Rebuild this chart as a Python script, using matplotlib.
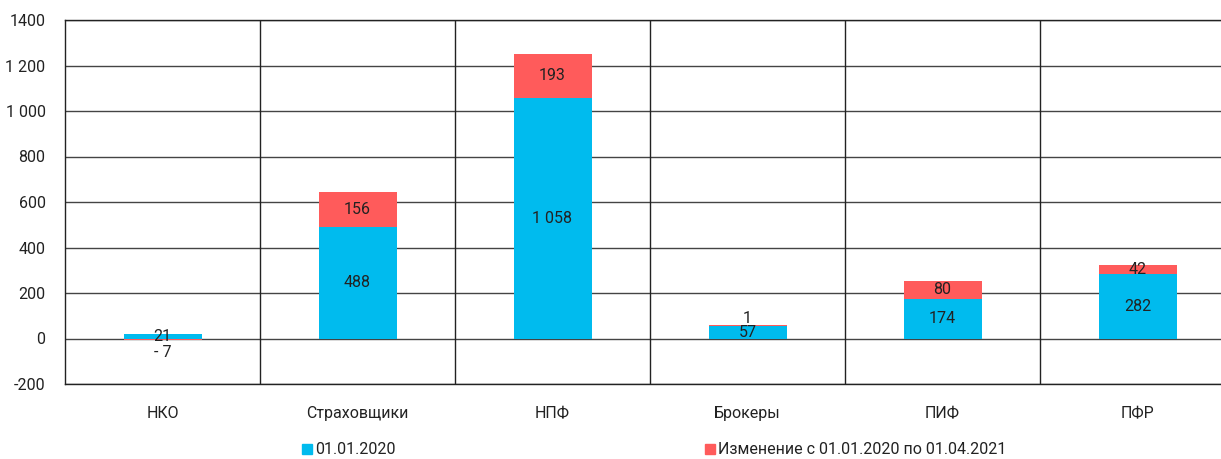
import matplotlib.pyplot as plt
from matplotlib.patches import Patch

plt.rcParams["font.family"] = ["Roboto", "DejaVu Sans"]

categories = ["НКО", "Страховщики", "НПФ", "Брокеры", "ПИФ", "ПФР"]
base_2020 = [21, 488, 1058, 57, 174, 282]
change = [-7, 156, 193, 1, 80, 42]
yticks = [-200, 0, 200, 400, 600, 800, 1000, 1200, 1400]
ytick_labels = ["-200", "0", "200", "400", "600", "800", "1 000", "1 200", "1400"]
legend_labels = ["01.01.2020", "Изменение с 01.01.2020 по 01.04.2021"]

blue = "#00BBEE"
red = "#FF5B5B"
text_color = "#222222"
fs = 11.5


def fmt(v):
    s = f"{abs(v):,}".replace(",", " ")
    return "- " + s if v < 0 else s


fig = plt.figure(figsize=(12.21, 4.59), dpi=100)
ax = fig.add_axes([65 / 1221, 1 - 384 / 459, 1 - 65 / 1221, (384 - 20) / 459])

x = [i + 0.5 for i in range(len(categories))]
width = 0.4

ax.bar(x, base_2020, width, color=blue, zorder=3)
change_bottom = [b if c >= 0 else 0 for b, c in zip(base_2020, change)]
ax.bar(x, change, width, bottom=change_bottom, color=red, zorder=3)

# segment labels; tiny segments get their label pushed outside the bar
for xi, b, c, cb in zip(x, base_2020, change, change_bottom):
    ax.text(xi, b / 2, fmt(b), ha="center", va="center", fontsize=fs,
            color=text_color, zorder=4)
    if abs(c) < 15:
        if c >= 0:
            ax.text(xi, cb + c - 2, fmt(c), ha="center", va="bottom",
                    fontsize=fs, color=text_color, zorder=4)
        else:
            ax.text(xi, cb + c - 20, fmt(c), ha="center", va="top",
                    fontsize=fs, color=text_color, zorder=4)
    else:
        ax.text(xi, cb + c / 2, fmt(c), ha="center", va="center",
                fontsize=fs, color=text_color, zorder=4)

ax.set_ylim(-200, 1400)
ax.set_xlim(0, 1156 / 195)
ax.set_yticks(yticks)
ax.set_yticklabels(ytick_labels)
ax.set_xticks(x)
ax.set_xticklabels(categories)
ax.tick_params(axis="both", length=0, labelsize=fs, colors=text_color)
ax.tick_params(axis="y", pad=14)
ax.tick_params(axis="x", pad=16)

for y in yticks:
    ax.axhline(y, color="#444444", linewidth=1, zorder=1)
for i in range(1, len(categories)):
    ax.axvline(i, color="#222222", linewidth=1, zorder=1)

for side in ["left", "bottom", "top"]:
    ax.spines[side].set_color("#222222")
    ax.spines[side].set_linewidth(1)
ax.spines["right"].set_visible(False)

handles = [Patch(color=blue), Patch(color=red)]
fig.legend(handles, legend_labels, loc="center left",
           bbox_to_anchor=(302 / 1221, 1 - 450 / 459), ncol=2, frameon=False,
           fontsize=fs, handlelength=0.6, handleheight=0.6, handletextpad=0.2,
           columnspacing=19.4, borderpad=0, borderaxespad=0,
           labelcolor=text_color)

fig.savefig("out.png", dpi=100)
